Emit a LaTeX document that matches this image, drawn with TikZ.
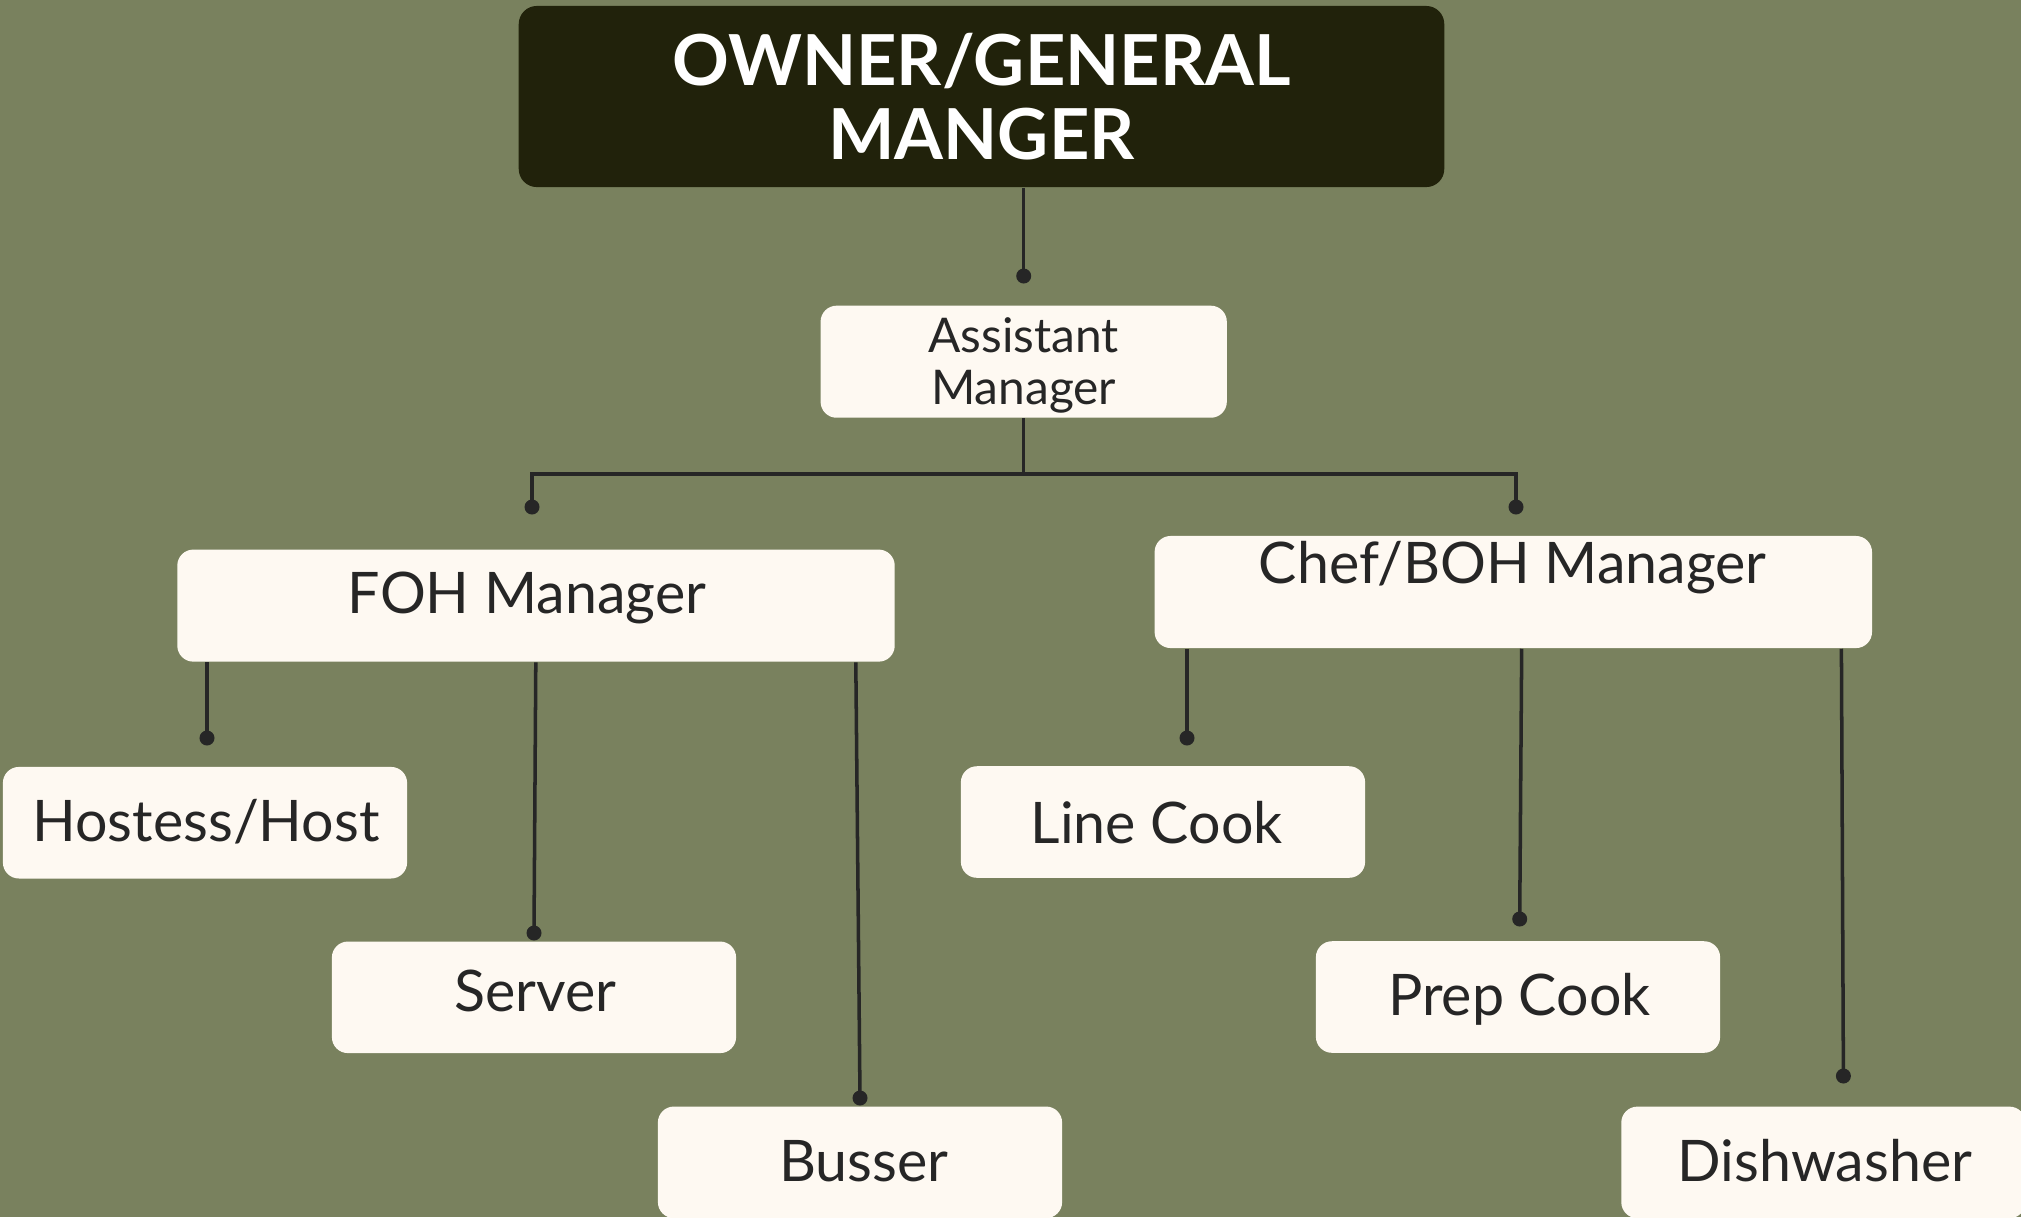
\documentclass[tikz,border=0pt]{standalone}
\usepackage{fontspec}
\setmainfont{Lato}
\usetikzlibrary{calc}
\definecolor{bg}{HTML}{79815E}
\definecolor{cream}{HTML}{FEF9F2}
\definecolor{dark}{HTML}{21220B}
\definecolor{ink}{HTML}{262626}
\begin{document}
\begin{tikzpicture}[x=0.01cm,y=-0.01cm,
  card/.style={fill=cream, draw=none, rounded corners=0.16cm, inner sep=0pt,
    minimum width=4.04cm, minimum height=1.115cm},
  wide/.style={card, minimum width=7.17cm, minimum height=1.12cm},
  lbl/.style={anchor=base, inner sep=0pt, text=ink, font=\fontsize{16.3}{19}\selectfont},
  conn/.style={draw=ink, line width=1pt},
  dot/.style={fill=ink, draw=none}]
\fill[bg] (0,0) rectangle (2021,1217);
\useasboundingbox (0,0) rectangle (2021,1217);

% boxes
\node[fill=dark, rounded corners=0.18cm, minimum width=9.25cm, minimum height=1.81cm, inner sep=0pt] (top) at (981.5,96.5) {};
\node[card, minimum width=4.06cm, minimum height=1.12cm] (asst) at (1023.7,361.7) {};
\node[wide] (foh) at (536,605.6) {};
\node[wide] (chef) at (1513.3,592) {};
\node[card] (host) at (205,822.7) {};
\node[card] (server) at (534,997.3) {};
\node[card] (busser) at (860,1162.3) {};
\node[card] (line) at (1163,822) {};
\node[card] (prep) at (1518,997) {};
\node[card] (dish) at (1823.4,1162.4) {};

% texts
\node[anchor=south, inner sep=0pt, text depth=0pt, align=center, text=white,
  font=\fontsize{20}{20.9}\selectfont\bfseries] (topT) at (981.5,160) {OWNER/GENERAL\\MANGER};
\node[anchor=south, inner sep=0pt, text depth=0pt, align=center, text=ink,
  font=\fontsize{13.6}{14.8}\selectfont] (asstT) at (1023.7,405) {Assistant\\Manager};
\node[lbl] (fohT) at (527,613) {FOH Manager};
\node[lbl] (chefT) at (1512.6,583) {Chef/BOH Manager};
\node[lbl] (hostT) at (206,841) {Hostess/Host};
\node[lbl] (serverT) at (535.5,1011.5) {Server};
\node[lbl] (busserT) at (864,1181) {Busser};
\node[lbl] (lineT) at (1156.6,843.5) {Line Cook};
\node[lbl] (prepT) at (1519.4,1015.4) {Prep Cook};
\node[lbl] (dishT) at (1825,1181) {Dishwasher};

% connector end points
\coordinate (dA) at (1023.7,276);
\coordinate (bus) at (1023.7,474);
\coordinate (dF) at (532,507);
\coordinate (dC) at (1516,507);
\coordinate (d1) at (207,738);
\coordinate (d2) at (534,933);
\coordinate (d3) at (860,1098);
\coordinate (d4) at (1187,738);
\coordinate (d5) at (1519.7,919);
\coordinate (d6) at (1843.4,1076);

% connectors
\draw[conn] (top.south -| dA) -- (dA);
\draw[conn] (asst.south) -- (bus);
\draw[conn] (dF) -- (dF |- bus) -- (dC |- bus) -- (dC);
\draw[conn] (foh.south -| d1) -- (d1);
\draw[conn] ($(foh.south)+(-0.2,0)$) -- (d2);
\draw[conn] ($(foh.south)+(319.8,0)$) -- (d3);
\draw[conn] (chef.south -| d4) -- (d4);
\draw[conn] ($(chef.south)+(8.4,0)$) -- (d5);
\draw[conn] ($(chef.south)+(328.1,0)$) -- (d6);
\foreach \d in {dA,dF,dC,d1,d2,d3,d4,d5,d6}
  \fill[dot] (\d) circle (0.075cm);
\end{tikzpicture}
\end{document}
